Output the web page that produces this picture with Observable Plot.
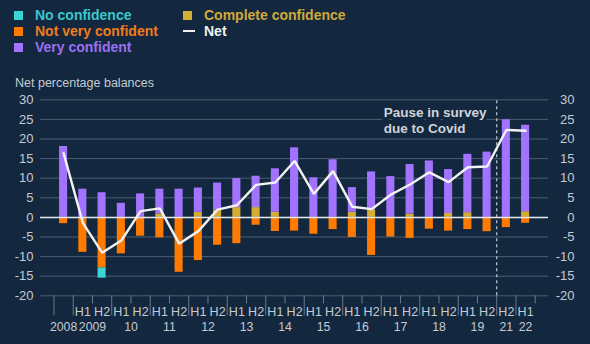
<!DOCTYPE html>
<html>
<head>
<meta charset="utf-8">
<script src="https://cdn.jsdelivr.net/npm/d3@7"></script>
<script src="https://cdn.jsdelivr.net/npm/@observablehq/plot@0.6"></script>
<style>
  html, body { margin: 0; padding: 0; background: #13283f; }
  body { width: 590px; height: 344px; overflow: hidden; font-family: "Liberation Sans", Arial, sans-serif; }
  #top { position: relative; height: 92px; }
  .col { position: absolute; top: 7px; }
  .item { display: flex; align-items: center; height: 16px; font-size: 14px; font-weight: bold; white-space: nowrap; }
  .sw { width: 9px; height: 9px; margin-right: 12px; flex: none; }
  .ln { width: 12px; height: 2px; margin-right: 9px; flex: none; }
  #sub { position: absolute; left: 15px; top: 76px; font-size: 12.5px; color: #c5cbd3; }
</style>
</head>
<body>
<div id="top">
  <div class="col" style="left:14px" id="col1"></div>
  <div class="col" style="left:183px" id="col2"></div>
  <div id="sub">Net percentage balances</div>
</div>
<div id="chart"></div>
<script>
// ---- Data ----
const years  = ["2008","2009","2009","10","10","11","11","12","12","13","13","14","14","15","15","16","16","17","17","18","18","19","19","21","22"];
const halves = ["","H1","H2","H1","H2","H1","H2","H1","H2","H1","H2","H1","H2","H1","H2","H1","H2","H1","H2","H1","H2","H1","H2","H2","H1"];

const noConfidence       = [0, 0, 2.6, 0, 0, 0, 0, 0, 0, 0, 0, 0, 0, 0, 0, 0, 0, 0, 0, 0, 0, 0, 0, 0, 0];
const notVeryConfident   = [1.6, 8.9, 12.9, 9.3, 4.8, 5.2, 14.0, 11.0, 7.1, 6.7, 2.0, 3.6, 3.5, 4.3, 3.1, 5.1, 9.7, 5.0, 5.35, 3.0, 3.5, 3.1, 3.65, 2.6, 1.5];
const completeConfidence = [0, 0, 0, 0, 0, 0.9, 0, 1.3, 1.9, 2.5, 2.5, 1.3, 0, 0, 0, 1.3, 1.9, 0, 0.85, 0, 1.0, 1.2, 0, 0, 1.45];
const veryConfident      = [18.1, 7.2, 6.3, 3.6, 6.0, 6.3, 7.2, 6.2, 6.85, 7.4, 8.0, 11.1, 17.75, 10.1, 14.7, 6.3, 9.7, 10.4, 12.65, 14.4, 11.2, 14.9, 16.65, 24.9, 22.05];
const net                = [16.4, -1.4, -9.0, -5.9, 1.6, 2.3, -6.7, -3.5, 2.0, 3.1, 8.3, 8.9, 14.4, 6.0, 11.8, 2.7, 2.1, 5.8, 8.4, 11.5, 9.0, 12.8, 13.0, 22.3, 22.1];

const yTicks = [-20, -15, -10, -5, 0, 5, 10, 15, 20, 25, 30];
const pauseAfterIndex = 22; // last period before the Covid pause (2019 H2)
const annotationText = "Pause in survey\ndue to Covid";

const colors = {
  "No confidence": "#3ad3d6",
  "Not very confident": "#ff7a00",
  "Very confident": "#a273ff",
  "Complete confidence": "#d4ae34",
  "Net": "#f2f2f2"
};
const textColors = {
  "No confidence": "#3cc6cc",
  "Not very confident": "#f07c1c",
  "Very confident": "#9c70f2",
  "Complete confidence": "#d0a93a",
  "Net": "#f2f2f2"
};

// ---- Legend ----
function addItem(col, name, isLine) {
  const d = document.createElement("div");
  d.className = "item";
  d.style.color = textColors[name];
  const s = document.createElement("span");
  s.className = isLine ? "ln" : "sw";
  s.style.background = colors[name];
  d.appendChild(s);
  d.appendChild(document.createTextNode(name));
  document.getElementById(col).appendChild(d);
}
addItem("col1", "No confidence");
addItem("col1", "Not very confident");
addItem("col1", "Very confident");
addItem("col2", "Complete confidence");
addItem("col2", "Net", true);

// ---- Derived tables ----
const n = years.length;
const idx = d3.range(n);
const segments = [];
idx.forEach(i => {
  const c = completeConfidence[i], v = veryConfident[i], nv = notVeryConfident[i], nc = noConfidence[i];
  segments.push({i, series: "Complete confidence", y1: 0, y2: c});
  segments.push({i, series: "Very confident", y1: c, y2: c + v});
  segments.push({i, series: "Not very confident", y1: 0, y2: -nv});
  segments.push({i, series: "No confidence", y1: -nv, y2: -nv - nc});
});
const boundaries = idx.map(i => ({x: i - 0.5, long: i === 0 || years[i] !== years[i - 1]}));
boundaries.push({x: n - 0.5, long: false});
const longTicks = boundaries.filter(b => b.long).map(b => b.x);
const shortTicks = boundaries.filter(b => !b.long).map(b => b.x);
const yearGroups = d3.groups(idx, i => years[i]).map(([label, is]) => ({label, x: d3.mean(is)}));
const yearByX = new Map(yearGroups.map(g => [g.x, g.label]));
const pauseX = pauseAfterIndex + 0.5;
const barHalf = 0.21;

const bg = "#13283f";
const gridColor = "#4a5d74";
const tickColor = "#6b7a8c";
const labelColor = "#c5cbd3";

const chart = Plot.plot({
  width: 590,
  height: 252,
  marginTop: 7.3,
  marginBottom: 48.7,
  marginLeft: 40,
  marginRight: 42,
  style: {background: "transparent", fontFamily: "'Liberation Sans', Arial, sans-serif", fontSize: "13px", color: labelColor},
  x: {type: "linear", domain: [-1.2, 25.19], axis: null},
  y: {domain: [-20, 30], axis: null},
  marks: [
    Plot.gridY(yTicks, {stroke: gridColor, strokeOpacity: 1, strokeWidth: 1}),
    Plot.axisY({anchor: "left", ticks: yTicks, tickSize: 0, tickPadding: 7, tickFormat: d => String(d), fill: labelColor, fontSize: 13, label: null}),
    Plot.axisY({anchor: "right", ticks: yTicks, tickSize: 0, tickPadding: 0, textAnchor: "end", dx: 26, tickFormat: d => String(d), fill: labelColor, fontSize: 13, label: null}),
    Plot.axisX({ticks: longTicks, tickSize: 20, tickFormat: () => "", stroke: tickColor, label: null}),
    Plot.axisX({ticks: shortTicks, tickSize: 8, tickFormat: () => "", stroke: tickColor, label: null}),
    Plot.axisX({ticks: idx, tickSize: 0, tickPadding: 11, tickFormat: i => halves[i], fill: labelColor, fontSize: 12.5, label: null}),
    Plot.axisX({ticks: yearGroups.map(g => g.x), tickSize: 0, tickPadding: 26.5, tickFormat: x => yearByX.get(x), fill: labelColor, fontSize: 12.3, label: null}),
    Plot.rectY(segments.filter(s => s.y1 !== s.y2), {
      x1: d => d.i - barHalf, x2: d => d.i + barHalf, y1: "y1", y2: "y2",
      fill: d => colors[d.series]
    }),
    Plot.ruleY([0], {stroke: "#e6eaee", strokeWidth: 1.5}),
    Plot.ruleX([pauseX], {y1: -20, y2: 30, stroke: "#c3c9d1", strokeWidth: 1.2, strokeDasharray: "3,3"}),
    Plot.text([annotationText], {
      x: pauseX, y: 24.8, dx: -113, text: d => d, textAnchor: "start", lineAnchor: "middle",
      lineHeight: 1.2, fontSize: 13.5, fontWeight: "bold", fill: "#d0d4da",
      stroke: bg, strokeWidth: 7
    }),
    Plot.line(idx, {x: i => i, y: i => net[i], stroke: colors["Net"], strokeWidth: 2.4, strokeLinejoin: "miter"})
  ]
});
document.getElementById("chart").appendChild(chart);
</script>
</body>
</html>
